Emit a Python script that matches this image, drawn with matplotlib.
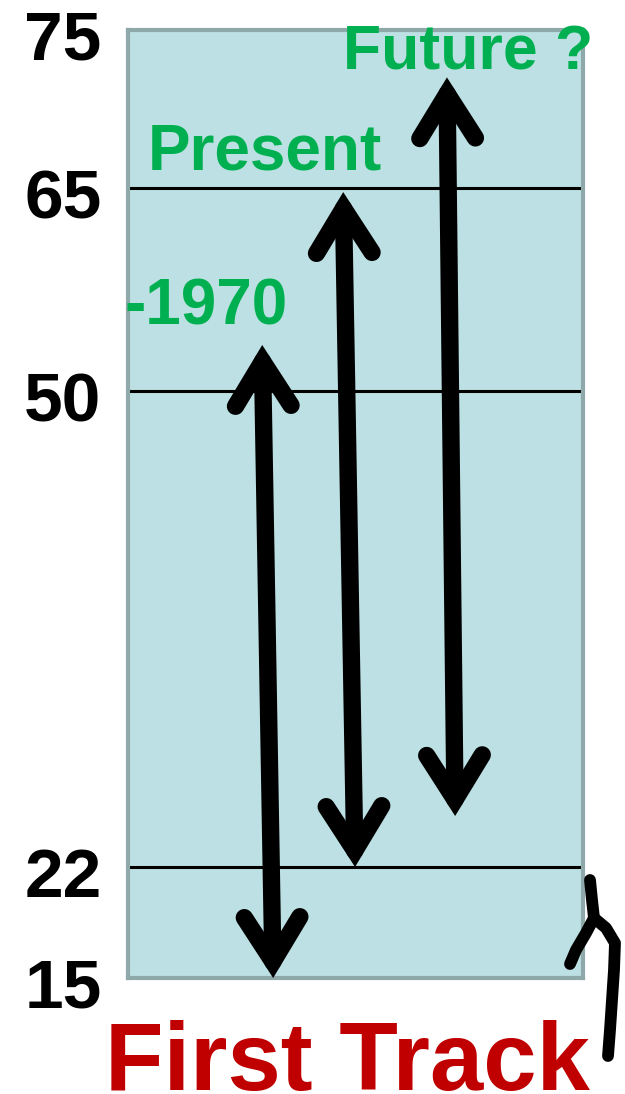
import numpy as np
import matplotlib.pyplot as plt
import matplotlib.transforms as mtransforms
from matplotlib.patches import FancyArrowPatch
from matplotlib.lines import Line2D

# age levels on the left and where they sit on the (non-linear) schematic axis
levels = [15, 22, 50, 65, 75]
level_pos = [0, 111, 587, 790, 948]
grid_levels = [22, 50, 65]

# eras: label, (x bottom, x top), (age low, age high)
eras = ['-1970', 'Present', 'Future ?']
era_x_low = [3.19, 4.99, 7.19]
era_x_high = [2.95, 4.73, 7.01]
era_age_low = [15, 22, 25]
era_age_high = [53.4, 64.7, 72]

green = '#00B050'
red = '#C00000'


def forward(v):
    return np.interp(v, levels, level_pos)


def inverse(p):
    return np.interp(p, level_pos, levels)


plt.rcParams['font.family'] = ['Liberation Sans', 'DejaVu Sans']
fig = plt.figure(figsize=(6.25, 10.94), dpi=100)
ax = fig.add_axes([128 / 625, 1 - 978 / 1094, 455 / 625, 948 / 1094])
ax.set_facecolor('#BCE0E3')
ax.set_yscale('function', functions=(forward, inverse))
ax.set_ylim(15, 75)
ax.set_xlim(0, 10)
for s in ax.spines.values():
    s.set_color('#8FA8AA')
    s.set_linewidth(3)

ax.set_xticks([])
ax.set_yticks(levels)
ax.set_yticklabels([str(v) for v in levels], fontsize=50, fontweight='bold')
ax.tick_params(axis='y', length=0, pad=19)
shift = mtransforms.ScaledTranslation(0, -5 / 100, fig.dpi_scale_trans)
for lab in ax.get_yticklabels():
    lab.set_transform(lab.get_transform() + shift)

for g in grid_levels:
    ax.axhline(g, color='black', lw=2.2, zorder=1)

for i in range(len(eras)):
    arr = FancyArrowPatch((era_x_low[i], era_age_low[i]), (era_x_high[i], era_age_high[i]),
                          arrowstyle='<->,head_length=1.6,head_width=1.0', mutation_scale=20,
                          lw=12.5, color='black', capstyle='round', joinstyle='miter',
                          shrinkA=0, shrinkB=0, zorder=3)
    ax.add_patch(arr)

# era labels above the arrow tops
ax.text(-0.07, 54.9, eras[0], color=green, fontsize=46, fontweight='bold', va='baseline', ha='left')
ax.text(0.44, 66.2, eras[1], color=green, fontsize=46, fontweight='bold', va='baseline', ha='left')
ax.text(4.73, 72.5, eras[2], color=green, fontsize=45, fontweight='bold', va='baseline', ha='left',
        clip_on=False)

fig.text(347 / 625, 1 - 1090 / 1094, 'First Track', color=red, fontsize=69, fontweight='bold',
         ha='center', va='baseline')

# hand-drawn squiggle on the right
sq1 = [(590, 880), (592, 900), (594, 918), (586, 933), (576, 950), (570, 964)]
sq2 = [(594, 918), (606, 928), (615, 943), (614, 970), (612, 1000), (610, 1030), (608, 1056)]
for pts in (sq1, sq2):
    xs = [p[0] / 625 for p in pts]
    ys = [1 - p[1] / 1094 for p in pts]
    fig.add_artist(Line2D(xs, ys, color='black', lw=8.5, solid_capstyle='round',
                          solid_joinstyle='round'))

fig.savefig('out.png', dpi=100)
